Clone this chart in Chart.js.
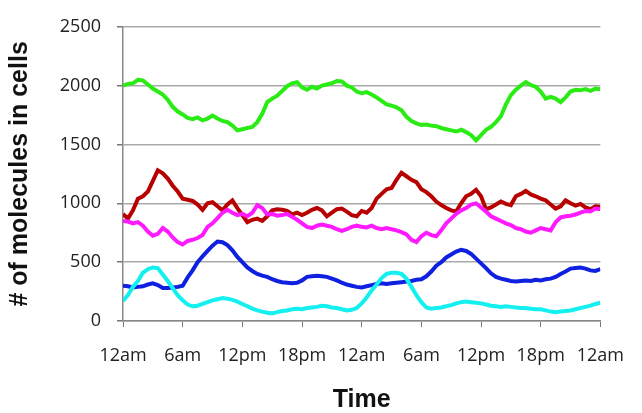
<!DOCTYPE html>
<html>
<head>
<meta charset="utf-8">
<script src="https://cdn.jsdelivr.net/npm/chart.js@4"></script>
<style>
  body { margin: 0; background: #fff; }
</style>
</head>
<body>
<canvas id="chart" width="642" height="413"></canvas>
<script>
// half-hour samples over two days
const hours = Array.from({ length: 97 }, (_, i) => i / 2);
const tickLabels = ['12am', '6am', '12pm', '18pm', '12am', '6am', '12pm', '18pm', '12am'];
const yTicks = [0, 500, 1000, 1500, 2000, 2500];

const green = [
    2000, 2015, 2020, 2050, 2045, 2010, 1975, 1950, 1925, 1880, 1820, 1780,
    1755, 1725, 1715, 1730, 1705, 1720, 1745, 1720, 1700, 1690, 1660, 1620,
    1630, 1640, 1650, 1690, 1760, 1860, 1890, 1915, 1955, 1995, 2020, 2030,
    1985, 1965, 1990, 1975, 2000, 2010, 2020, 2040, 2035, 2000, 1985, 1950,
    1935, 1945, 1925, 1900, 1870, 1840, 1830, 1815, 1790, 1735, 1700, 1680,
    1665, 1670, 1660, 1655, 1640, 1630, 1620, 1610, 1625, 1605, 1580, 1535,
    1580, 1625, 1650, 1690, 1740, 1840, 1920, 1965, 2000, 2030, 2005, 1990,
    1950, 1890, 1905, 1890, 1860, 1900, 1950, 1965, 1960, 1970, 1955, 1975,
    1970
];
const darkRed = [
    910, 870, 940, 1040, 1060, 1100, 1190, 1280, 1255, 1210, 1150, 1100,
    1040, 1030, 1020, 990, 945, 1000, 1010, 975, 940, 990, 1025, 960,
    900, 840, 860, 870, 850, 890, 940, 950, 945, 935, 905, 920,
    900, 920, 945, 960, 940, 890, 920, 950, 955, 930, 900, 890,
    935, 920, 960, 1040, 1080, 1120, 1130, 1200, 1260, 1230, 1200, 1180,
    1120, 1095, 1060, 1015, 985, 960, 940, 930, 1000, 1060, 1080, 1115,
    1060, 950, 965, 990, 1015, 995, 985, 1060, 1080, 1105, 1075, 1060,
    1040, 1025, 990, 955, 975, 1025, 1000, 980, 995, 965, 950, 975,
    970
];
const magenta = [
    850, 845, 830, 840, 810, 760, 725, 740, 790, 760, 710, 670,
    650, 680, 690, 705, 730, 800, 830, 875, 920, 945, 920, 900,
    910, 890, 920, 985, 960, 905, 910, 895, 900, 910, 885, 860,
    830, 800, 790, 810, 820, 810, 800, 780, 765, 780, 800, 810,
    800, 795, 810, 790, 780, 790, 780, 770, 755, 735, 690, 670,
    720, 750, 730, 720, 770, 830, 870, 910, 940, 960, 990, 1000,
    965, 930, 890, 870, 850, 830, 815, 790, 780, 760, 750, 770,
    790, 780, 770, 840, 880, 890, 895, 905, 920, 935, 930, 955,
    950
];
const blue = [
    300, 295, 285, 290, 295, 310, 320, 305, 280, 280, 285, 290,
    300, 370, 430, 500, 550, 595, 640, 675, 670, 645, 600, 545,
    500, 455, 425, 400, 385, 375, 355, 340, 330, 325, 320, 325,
    345, 375, 380, 385, 380, 375, 360, 345, 325, 310, 300, 290,
    285, 295, 305, 315, 320, 315, 320, 325, 330, 335, 340, 350,
    355, 380, 420, 470, 500, 540, 565, 590, 605, 595, 570, 530,
    490, 450, 405, 375, 360, 350, 340, 335, 340, 345, 340, 350,
    345, 355, 360, 375, 400, 420, 445, 450, 455, 445, 430, 425,
    440
];
const cyan = [
    170, 220, 290, 340, 410, 440, 455, 450, 395, 340, 280, 220,
    175, 140, 125, 130, 145, 160, 175, 185, 195, 190, 180, 165,
    145, 125, 105, 90, 80, 70, 65, 75, 85, 90, 100, 105,
    100, 110, 115, 120, 130, 125, 115, 110, 100, 90, 95, 110,
    150, 200, 260, 310, 365, 400, 410, 410, 400, 360, 290, 220,
    160, 115, 105, 110, 115, 125, 135, 150, 160, 165, 160, 155,
    150, 140, 130, 125, 120, 125, 120, 115, 110, 110, 105, 100,
    100, 90, 80, 75, 80, 85, 90, 100, 110, 120, 130, 145,
    155
];

function series(values, color) {
    return {
        data: values.map((v, i) => ({ x: hours[i], y: v })),
        borderColor: color,
        backgroundColor: color,
        borderWidth: 4,
        pointRadius: 0,
        tension: 0,
        fill: false
    };
}

const tickFont = { family: 'Open Sans', size: 18 };
const titleFont = { family: 'Liberation Sans', size: 25, weight: 'bold', lineHeight: 1 };

new Chart(document.getElementById('chart'), {
    type: 'line',
    data: {
        // first dataset ends up on top
        datasets: [
            series(cyan, '#14f0f0'),
            series(blue, '#1020e0'),
            series(magenta, '#ff1aff'),
            series(darkRed, '#b80000'),
            series(green, '#2aec14')
        ]
    },
    options: {
        responsive: false,
        animation: false,
        layout: { padding: { top: 11, right: 26, left: 0, bottom: 0 } },
        plugins: { legend: { display: false }, tooltip: { enabled: false } },
        scales: {
            x: {
                type: 'linear',
                min: 0,
                max: 48,
                afterFit: s => { s.height = 92; },
                afterBuildTicks: s => { s.ticks = tickLabels.map((_, i) => ({ value: i * 6 })); },
                ticks: {
                    callback: (v) => tickLabels[Math.round(v / 6)],
                    font: tickFont,
                    color: '#222',
                    padding: 18,
                    maxRotation: 0,
                    autoSkip: false
                },
                grid: { drawOnChartArea: false, tickLength: 6, tickColor: '#777' },
                border: { color: '#888', width: 1.5 },
                title: { display: true, text: 'Time', font: titleFont, color: '#111', padding: 0 }
            },
            y: {
                min: 0,
                max: 2500,
                afterFit: s => { s.width = 123; },
                afterBuildTicks: s => { s.ticks = yTicks.map(v => ({ value: v })); },
                ticks: { font: tickFont, color: '#222', padding: 16, callback: v => String(v) },
                grid: { color: '#a9a9a9', lineWidth: 1.5, tickLength: 6, tickColor: '#777' },
                border: { color: '#888', width: 1.5 },
                title: { display: true, text: '# of molecules in cells', font: titleFont, color: '#111', padding: { top: 8, bottom: 0 } }
            }
        }
    }
});
</script>
</body>
</html>
